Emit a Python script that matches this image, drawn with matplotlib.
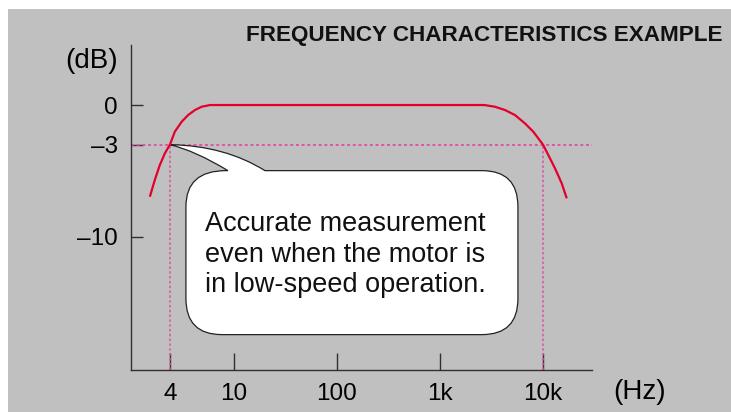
import numpy as np
import matplotlib
matplotlib.use("Agg")
import matplotlib.pyplot as plt
import matplotlib.patches as mpatches
import matplotlib.transforms as mtransforms
from matplotlib.path import Path

# frequency response
freq_hz = [3.0, 3.22, 3.46, 3.72, 4.0, 4.29, 4.73, 5.19, 5.72, 6.3, 7.1,
           2200, 2700, 3420, 4280, 5350, 6680, 8050, 10000, 11260, 13080, 15190, 17000]
gain_db = [-6.95, -5.68, -4.55, -3.66, -3.0, -2.02, -1.27, -0.76, -0.38, -0.13, 0.0,
           0.0, 0.0, -0.13, -0.38, -0.76, -1.39, -2.02, -3.0, -3.79, -4.8, -5.93, -7.07]
cutoff_hz = [4, 10000]
cutoff_db = -3
tick_hz = [4, 10, 100, 1000, 10000]
tick_labels = ["4", "10", "100", "1k", "10k"]
ytick_db = [0, -3, -10]
ytick_labels = ["0", "\u20133", "\u201310"]
title = "FREQUENCY CHARACTERISTICS EXAMPLE"
note = "Accurate measurement\neven when the motor is\nin low-speed operation."

W, H = 731, 412
red = "#e3002d"
pink = "#e0509c"
axis_col = "#303030"
plt.rcParams["font.family"] = ["Liberation Sans", "DejaVu Sans"]

# the drawing stretches the part below 10 Hz
stretch = 1.56


def fwd(f):
    lf = np.log10(np.asarray(f, dtype=float))
    return np.where(lf >= 1, lf - 1, (lf - 1) * stretch)


def inv(p):
    p = np.asarray(p, dtype=float)
    return 10 ** np.where(p >= 0, p + 1, 1 + p / stretch)


fig = plt.figure(figsize=(W / 100, H / 100), dpi=100, facecolor="white")
# grey panel
fig.patches.append(mpatches.Rectangle((8 / W, 0), 1 - 8 / W, 1 - 9 / H,
                                      transform=fig.transFigure, facecolor="#c0c0c0",
                                      edgecolor="none", zorder=-5))

ax = fig.add_axes([131 / W, (H - 370) / H, (592 - 131) / W, (370 - 45) / H])
ax.set_facecolor("none")
ax.set_xscale("function", functions=(fwd, inv))
ax.set_xlim(2.29, 29900)
ax.set_ylim(-20.08, 4.55)

for s in ["top", "right"]:
    ax.spines[s].set_visible(False)
for s in ["left", "bottom"]:
    ax.spines[s].set_color(axis_col)
    ax.spines[s].set_linewidth(1.0)

ax.set_xticks(tick_hz)
ax.set_xticklabels(tick_labels)
ax.xaxis.set_minor_locator(matplotlib.ticker.NullLocator())
ax.set_yticks(ytick_db)
ax.set_yticklabels(ytick_labels)
ax.tick_params(axis="x", direction="in", length=12, width=1, color=axis_col,
               pad=9, labelsize=17.5)
ax.tick_params(axis="y", direction="in", length=8.5, width=1, color=axis_col,
               pad=9.5, labelsize=17.5)

# dotted -3 dB guides
dots = (0, (1.65, 1.5))
ax.axhline(cutoff_db, color=pink, lw=1.3, ls=dots, zorder=2)
for f in cutoff_hz:
    ax.plot([f, f], [ax.get_ylim()[0], cutoff_db], color=pink, lw=1.1, ls=dots, zorder=2)

ax.plot(freq_hz, gain_db, color=red, lw=1.6, zorder=4, solid_capstyle="butt")

# speech bubble, drawn in pixel offsets from the 4 Hz / -3 dB point
fig.canvas.draw()
tx, ty = ax.transData.transform((cutoff_hz[0], cutoff_db))
off = mtransforms.Affine2D().scale(1, -1).translate(tx, ty)
L, R, T, B, r = 16, 348, 26, 190, 36
verts = [(0, 0), (55, 1), (95, T),
         (R - r, T), (R, T), (R, T + r),
         (R, B - r), (R, B), (R - r, B),
         (L + r, B), (L, B), (L, B - r),
         (L, T + r), (L, T), (L + r + 4, T),
         (58, T), (25, 6), (0, 0)]
codes = [Path.MOVETO, Path.CURVE3, Path.CURVE3,
         Path.LINETO, Path.CURVE3, Path.CURVE3,
         Path.LINETO, Path.CURVE3, Path.CURVE3,
         Path.LINETO, Path.CURVE3, Path.CURVE3,
         Path.LINETO, Path.CURVE3, Path.CURVE3,
         Path.LINETO, Path.CURVE3, Path.CURVE3]
bubble = mpatches.PathPatch(Path(verts, codes), facecolor="white", edgecolor="#222222",
                            lw=0.9, transform=off, zorder=3, clip_on=False)
ax.add_patch(bubble)
ax.text(35, 110, note, transform=off, ha="left", va="center", fontsize=19.5,
        linespacing=1.22, color="#111111", zorder=5, clip_on=False)

# titles and units
fig.text(722 / W, 1 - 35 / H, title, ha="right", va="center", fontsize=16.2,
         fontweight="bold", color="#111111")
fig.text(118 / W, 1 - 61 / H, "(dB)", ha="right", va="center", fontsize=20)
fig.text(640 / W, 1 - 392 / H, "(Hz)", ha="center", va="center", fontsize=20)

fig.savefig("out.png", dpi=100, facecolor="white")
